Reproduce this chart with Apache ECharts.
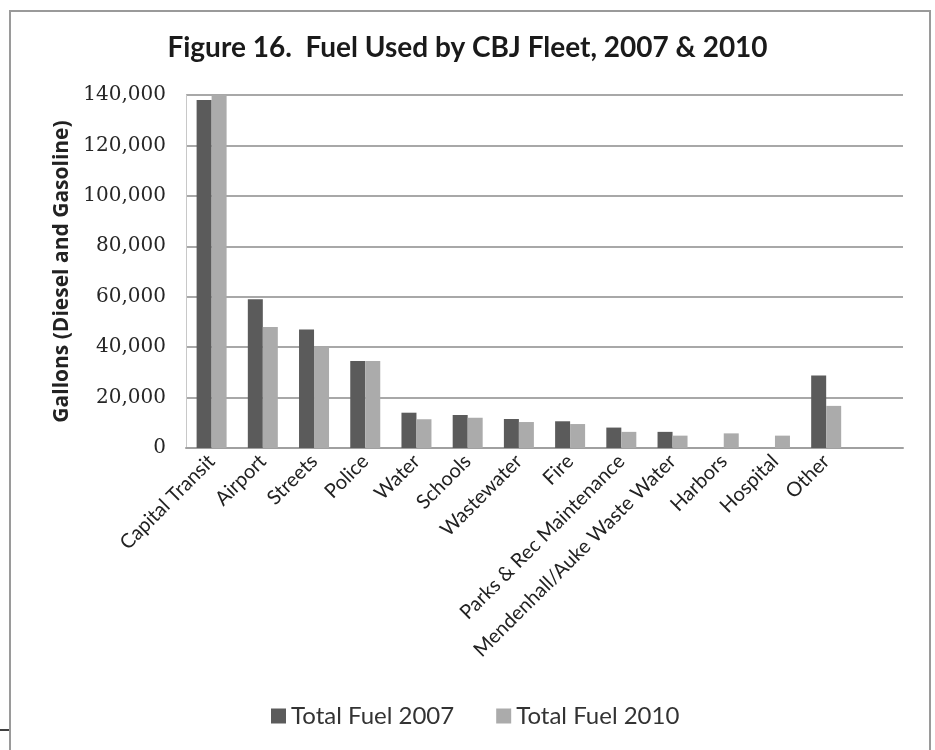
<!DOCTYPE html>
<html>
<head>
<meta charset="utf-8">
<script src="https://cdn.jsdelivr.net/npm/echarts@6/dist/echarts.min.js"></script>
<style>
html,body{margin:0;padding:0;background:#fff;}
#chart{width:935px;height:750px;}
</style>
</head>
<body>
<div id="chart"></div>
<script>
const categories = ['Capital Transit','Airport','Streets','Police','Water','Schools','Wastewater','Fire','Parks & Rec Maintenance','Mendenhall/Auke Waste Water','Harbors','Hospital','Other',''];
const fuel2007 = [138000, 59000, 47000, 34500, 14000, 13100, 11500, 10600, 8100, 6400, null, null, 28800, null];
const fuel2010 = [140000, 48000, 40000, 34500, 11400, 12000, 10300, 9500, 6400, 4900, 5800, 4900, 16700, null];
const yTicks = [0, 20000, 40000, 60000, 80000, 100000, 120000, 140000];

const chart = echarts.init(document.getElementById('chart'));
chart.setOption({
  animation: false,
  backgroundColor: '#ffffff',
  title: {
    text: 'Figure 16.  Fuel Used by CBJ Fleet, 2007 & 2010',
    left: 'center',
    top: 29,
    textStyle: {fontFamily: 'Lato', fontWeight: 'bold', fontSize: 28, color: '#1a1a1a'}
  },
  graphic: [
    {type: 'rect', shape: {x: 10, y: 11, width: 920, height: 780}, style: {fill: 'none', stroke: '#9a9a9a', lineWidth: 2}, silent: true},
    {type: 'line', shape: {x1: 0, y1: 730, x2: 9, y2: 730}, style: {stroke: '#000', lineWidth: 1.5}, silent: true}
  ],
  legend: {
    top: 699,
    left: 266,
    itemWidth: 15,
    itemHeight: 15,
    itemGap: 42,
    icon: 'rect',
    textStyle: {fontFamily: 'Lato', fontSize: 24, color: '#333'},
    data: ['Total Fuel 2007', 'Total Fuel 2010']
  },
  grid: {left: 186, right: 32, top: 95, bottom: 302, containLabel: false},
  xAxis: {
    type: 'category',
    data: categories,
    axisTick: {show: false},
    axisLine: {show: true, lineStyle: {color: '#a0a0a0', width: 2}},
    axisLabel: {interval: 0, rotate: 45, margin: 10, fontFamily: 'Lato', fontSize: 20, color: '#222'}
  },
  yAxis: {
    type: 'value',
    min: 0,
    max: 140000,
    interval: 20000,
    name: 'Gallons (Diesel and Gasoline)',
    nameLocation: 'middle',
    nameGap: 113,
    nameTextStyle: {fontFamily: 'Open Sans', fontWeight: 'bold', fontSize: 21, color: '#222'},
    axisLine: {show: true, lineStyle: {color: '#c8c8c8', width: 1}},
    axisTick: {show: false},
    axisLabel: {
      margin: 20,
      fontFamily: 'DejaVu Serif',
      fontSize: 20,
      color: '#262626',
      formatter: v => yTicks.includes(v) ? v.toLocaleString('en-US') : ''
    },
    splitLine: {show: true, lineStyle: {color: '#a8a8a8', width: 2}}
  },
  series: [
    {name: 'Total Fuel 2007', type: 'bar', data: fuel2007, barWidth: 15, barGap: '0%', itemStyle: {color: '#5b5b5b'}},
    {name: 'Total Fuel 2010', type: 'bar', data: fuel2010, barWidth: 15, barGap: '0%', itemStyle: {color: '#ababab'}}
  ]
});
</script>
</body>
</html>
